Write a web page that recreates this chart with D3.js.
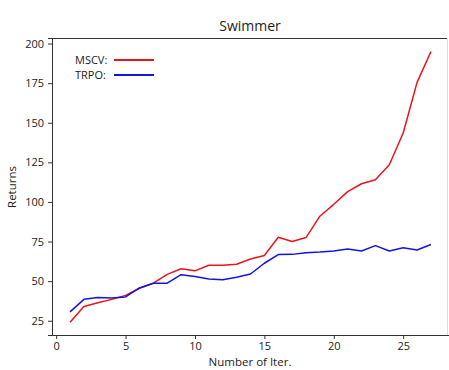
<!DOCTYPE html>
<html><head><meta charset="utf-8">
<script src="https://cdn.jsdelivr.net/npm/d3@7"></script>
<style>body{margin:0;background:#fff;}text{font-family:"Open Sans",sans-serif;}</style>
</head><body><svg id="c" width="449" height="370"></svg>
<script>
const iterations = d3.range(1, 28);
const mscv = [24.1, 34, 36.3, 38.5, 41, 45.5, 48.7, 54.3, 57.8, 56.5, 60, 60, 60.7, 64, 66.2, 77.7, 75, 77.5, 91, 98.5, 106.5, 111.5, 114, 123.5, 143.5, 175.5, 195];
const trpo = [30.6, 38.5, 39.7, 39.3, 40, 45.7, 48.7, 48.7, 54.1, 53, 51.3, 50.9, 52.4, 54.5, 61.3, 66.8, 66.9, 68, 68.4, 69, 70.3, 69, 72.4, 69, 71.1, 69.7, 73.1];
const xTicks = [0, 5, 10, 15, 20, 25];
const yTicks = [25, 50, 75, 100, 125, 150, 175, 200];
const seriesNames = ["MSCV:", "TRPO:"];
const seriesColors = ["#e8141c", "#1414e0"];

const svg = d3.select("#c");
const L = 52, R = 449, T = 38, B = 335;
const x = d3.scaleLinear().domain([-0.3, 28.3]).range([L, R]);
const y = d3.scaleLinear().domain([16, 203.5]).range([B, T]);

// frame
svg.append("line").attr("x1", L).attr("x2", 447).attr("y1", T + 0.5).attr("y2", T + 0.5).attr("stroke", "#333");
svg.append("line").attr("x1", 447.5).attr("x2", 447.5).attr("y1", T).attr("y2", B).attr("stroke", "#ddd");

const xa = svg.append("g").attr("transform", `translate(0,${B})`)
  .call(d3.axisBottom(x).tickValues(xTicks).tickSize(4).tickPadding(3).tickFormat(d3.format("d")));
const ya = svg.append("g").attr("transform", `translate(${L},0)`)
  .call(d3.axisLeft(y).tickValues(yTicks).tickSize(4).tickPadding(4).tickFormat(d3.format("d")));
[xa, ya].forEach(a => {
  a.selectAll("path,line").attr("stroke", "#333");
  a.selectAll("text").attr("font-size", 11).attr("fill", "#222").style("font-family", "Open Sans");
});
xa.select("path.domain").attr("d", `M${L},0.5H${R}`);

const line = d3.line().x((d, i) => x(iterations[i])).y(d => y(d));
[mscv, trpo].forEach((s, k) => {
  svg.append("path").datum(s).attr("d", line).attr("fill", "none")
    .attr("stroke", seriesColors[k]).attr("stroke-width", 1.5).attr("stroke-linejoin", "round");
});

// legend
seriesNames.forEach((n, k) => {
  const yy = 60 + k * 15;
  svg.append("text").attr("x", 75).attr("y", yy + 4).attr("font-size", 11).attr("fill", "#222").text(n);
  svg.append("line").attr("x1", 114).attr("x2", 154).attr("y1", yy).attr("y2", yy)
    .attr("stroke", seriesColors[k]).attr("stroke-width", 2);
});

svg.append("text").attr("x", 250).attr("y", 31).attr("text-anchor", "middle").attr("font-size", 14).attr("fill", "#222").text("Swimmer");
svg.append("text").attr("x", 250).attr("y", 366).attr("text-anchor", "middle").attr("font-size", 11.5).attr("fill", "#222").text("Number of Iter.");
svg.append("text").attr("transform", "translate(16,187) rotate(-90)").attr("text-anchor", "middle").attr("font-size", 11.5).attr("fill", "#222").text("Returns");
</script></body></html>
